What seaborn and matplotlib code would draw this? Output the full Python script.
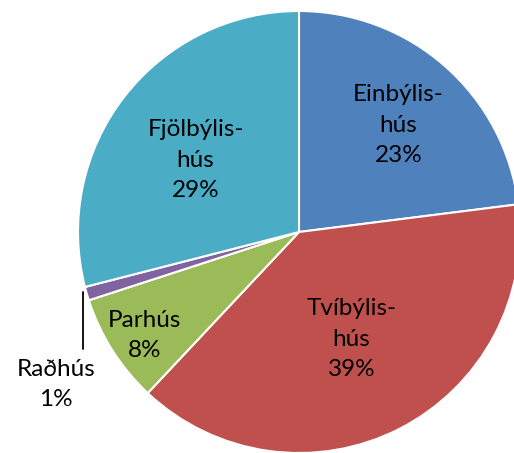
import matplotlib
matplotlib.use("Agg")
import matplotlib.pyplot as plt
import seaborn as sns
import numpy as np

sns.set_theme(style="white")
plt.rcParams['font.family'] = ['Lato', 'DejaVu Sans']

# data (clockwise from 12 o'clock)
labels = ["Einbýlis-\nhús", "Tvíbýlis-\nhús", "Parhús", "Raðhús", "Fjölbýlis-\nhús"]
shares = [23, 39, 8, 1, 29]
colors = ["#4F81BD", "#C0504D", "#9BBB59", "#8064A2", "#4BACC6"]

# label placement as (radius fraction, angle tweak in degrees)
label_pos = [(0.66, -1.5), (0.54, -1.0), (0.84, 1.5), None, (0.57, 3.0)]

fig = plt.figure(figsize=(5.14, 4.53), dpi=100)
ax = fig.add_axes([0, 0, 1, 1])

wedges, _ = ax.pie(shares, colors=colors, startangle=90, counterclock=False,
                   wedgeprops=dict(edgecolor="white", linewidth=1.5))

font_kw = dict(fontsize=17.5, color="black", ha="center", va="center", linespacing=1.55)
for w, lab, val, pos in zip(wedges, labels, shares, label_pos):
    text = f"{lab}\n{val}%"
    if pos is None:
        # small slice: label outside with a leader line
        ax.plot([-0.977, -0.977], [-0.27, -0.53], color="black", lw=1.3)
        ax.text(-1.10, -0.69, text, **font_kw)
        continue
    r, tweak = pos
    mid = np.deg2rad((w.theta1 + w.theta2) / 2 + tweak)
    ax.text(r * np.cos(mid), r * np.sin(mid), text, **font_kw)

ax.set_xlim(-299 / 221, 215 / 221)
ax.set_ylim(-221 / 221, 232 / 221)
ax.set_aspect("auto")
ax.axis("off")

fig.savefig("out.png", dpi=100, facecolor="white")
